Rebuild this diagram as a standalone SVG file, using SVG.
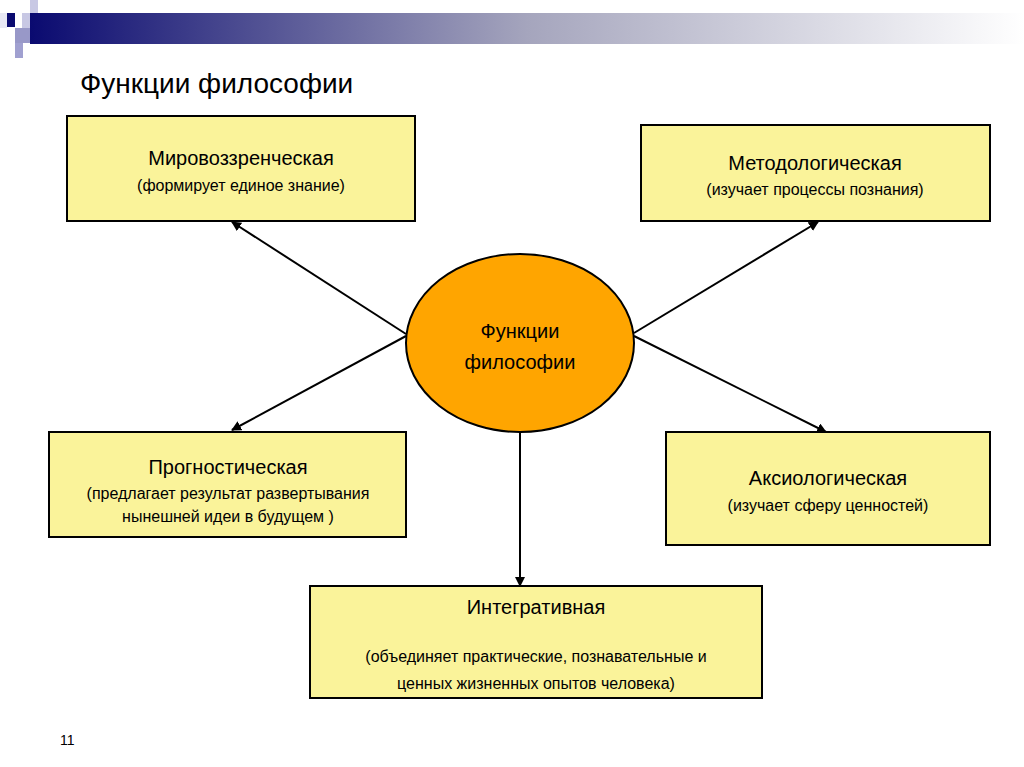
<svg xmlns="http://www.w3.org/2000/svg" width="1024" height="767" viewBox="0 0 1024 767">
<defs>
<linearGradient id="bar" x1="0" x2="1" y1="0" y2="0"><stop offset="0" stop-color="#0a0a70"/><stop offset="0.5" stop-color="#a5a5bd"/><stop offset="1" stop-color="#ffffff"/></linearGradient>
<marker id="ah" viewBox="0 0 10 10" refX="9" refY="5" markerWidth="10" markerHeight="10" markerUnits="userSpaceOnUse" orient="auto"><path d="M0,0 L10,5 L0,10 z" fill="#000"/></marker>
<style>
.box{fill:#FAF39A;stroke:#000;stroke-width:2}
.t{font-family:"Liberation Sans",Arial,sans-serif;fill:#000;text-anchor:middle}
.h{font-size:20px}.s{font-size:16px}
.c line{stroke:#000;stroke-width:2;marker-end:url(#ah)}
</style>
</defs>
<rect width="1024" height="767" fill="#fff"/>
<rect x="30" y="13" width="994" height="31" fill="url(#bar)"/>
<rect x="30" y="0" width="8" height="13" fill="#c8c8e4"/>
<rect x="22" y="13" width="8" height="15" fill="#c8c8e4"/>
<rect x="7" y="13" width="8" height="14" fill="#0a0a70"/>
<rect x="15" y="28" width="15" height="15" fill="#9898c8"/>
<rect x="15" y="43" width="8" height="15" fill="#a0a0d0"/>
<rect x="0" y="13" width="7" height="15" fill="#e8e8f4"/>
<text x="80" y="93" font-family="Liberation Sans,Arial,sans-serif" font-size="28" fill="#000">Функции философии</text>
<g class="c">
<line x1="406" y1="334" x2="232" y2="222"/>
<line x1="406" y1="336" x2="232" y2="430"/>
<line x1="634" y1="333" x2="818" y2="222"/>
<line x1="634" y1="336" x2="826" y2="432"/>
<line x1="520" y1="433" x2="520" y2="586"/>
</g>
<g id="center"><ellipse cx="520" cy="343" rx="114" ry="89" fill="#FFA500" stroke="#000" stroke-width="2"/>
<text class="t h" x="520" y="338">Функции</text><text class="t h" x="520" y="369">философии</text></g>
<g id="n1"><rect class="box" x="67" y="116" width="348" height="105"/>
<text class="t h" x="241" y="165">Мировоззренческая</text><text class="t s" x="241" y="191">(формирует единое знание)</text></g>
<g id="n2"><rect class="box" x="641" y="125" width="349" height="96"/>
<text class="t h" x="815" y="170">Методологическая</text><text class="t s" x="815" y="195">(изучает процессы познания)</text></g>
<g id="n3"><rect class="box" x="49" y="432" width="357" height="105"/>
<text class="t h" x="228" y="474">Прогностическая</text><text class="t s" x="228" y="499">(предлагает результат развертывания</text><text class="t s" x="228" y="522">нынешней идеи в будущем )</text></g>
<g id="n4"><rect class="box" x="666" y="432" width="324" height="113"/>
<text class="t h" x="828" y="485">Аксиологическая</text><text class="t s" x="828" y="511">(изучает сферу ценностей)</text></g>
<g id="n5"><rect class="box" x="310" y="586" width="452" height="112"/>
<text class="t h" x="536" y="614">Интегративная</text><text class="t s" x="536" y="662">(объединяет  практические, познавательные и</text><text class="t s" x="536" y="689">ценных жизненных опытов человека)</text></g>
<text x="60" y="745" font-family="Liberation Sans,Arial,sans-serif" font-size="14" fill="#000">11</text>
</svg>
